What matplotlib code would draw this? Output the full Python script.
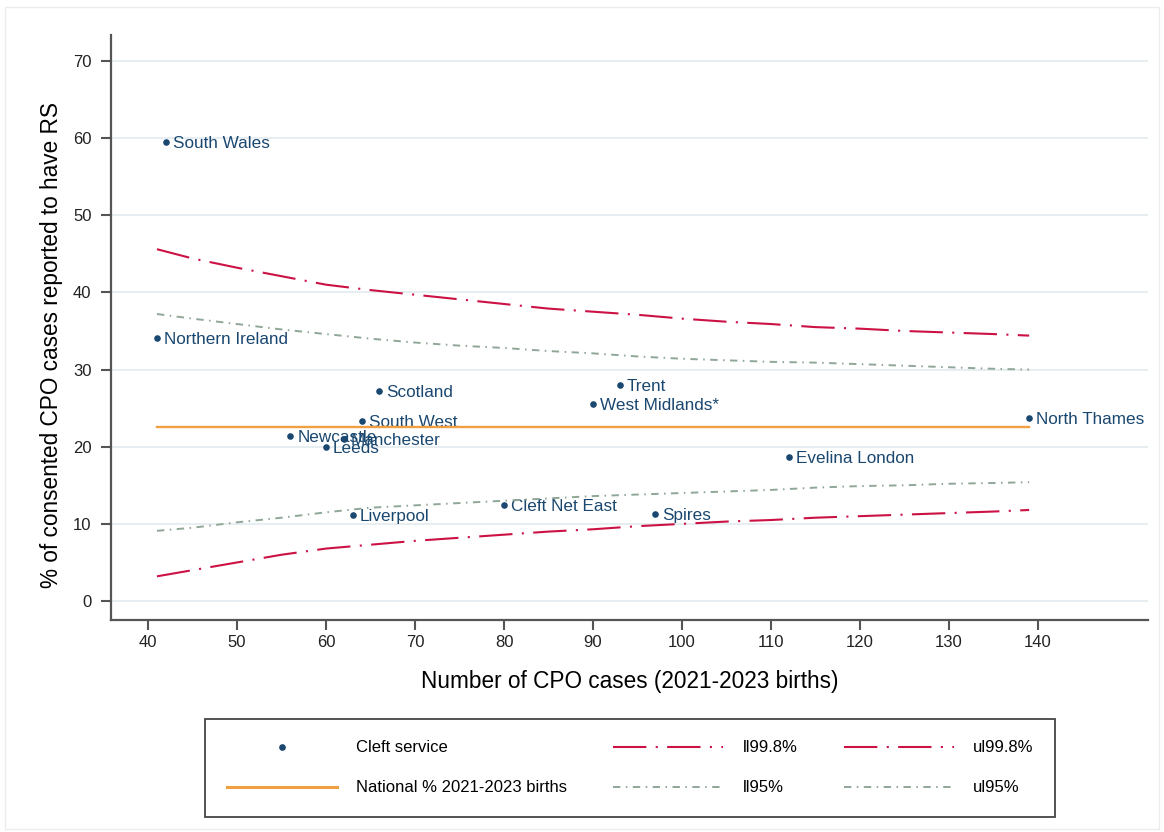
import matplotlib.pyplot as plt
from matplotlib.lines import Line2D
from matplotlib.patches import Rectangle

plt.rcParams['font.family'] = ['Liberation Sans', 'DejaVu Sans']

# Cleft services: number of CPO cases and % reported to have RS
services = ['South Wales', 'Northern Ireland', 'Scotland', 'Trent', 'West Midlands*',
            'South West', 'North Thames', 'Newcastle', 'Manchester', 'Leeds',
            'Evelina London', 'Cleft Net East', 'Liverpool', 'Spires']
cases = [42, 41, 66, 93, 90, 64, 139, 56, 62, 60, 112, 80, 63, 97]
pct_rs = [59.5, 34.1, 27.2, 28.0, 25.5, 23.3, 23.7, 21.4, 21.0, 20.0, 18.7, 12.4, 11.1, 11.3]

national_pct = 22.6

# funnel limits
limit_n = [41, 45, 50, 55, 60, 65, 70, 75, 80, 85, 90, 95, 100, 105, 110, 115, 120, 125, 130, 135, 139]
ul998 = [45.6, 44.4, 43.2, 42.1, 41.0, 40.3, 39.7, 39.1, 38.5, 37.9, 37.5, 37.1, 36.6, 36.2,
         35.9, 35.5, 35.3, 35.0, 34.8, 34.6, 34.4]
ul95 = [37.2, 36.6, 35.9, 35.2, 34.6, 34.0, 33.5, 33.1, 32.8, 32.4, 32.1, 31.7, 31.4, 31.2,
        31.0, 30.9, 30.7, 30.5, 30.3, 30.1, 30.0]
ll95 = [9.1, 9.5, 10.2, 10.8, 11.5, 12.1, 12.4, 12.7, 13.0, 13.3, 13.6, 13.8, 14.0, 14.2,
        14.4, 14.7, 14.9, 15.0, 15.2, 15.3, 15.4]
ll998 = [3.2, 4.0, 5.0, 6.0, 6.8, 7.3, 7.8, 8.2, 8.6, 9.0, 9.3, 9.7, 10.0, 10.3,
         10.5, 10.8, 11.0, 11.2, 11.4, 11.6, 11.8]

navy = '#1a476f'
red = '#cc1144'
green = '#8fa797'
orange = '#f0a040'
axis_col = '#555555'

fig = plt.figure(figsize=(11.64, 8.32), dpi=100)
fig.patches.append(Rectangle((0.004, 0.004), 0.992, 0.988, transform=fig.transFigure,
                             fill=False, edgecolor='#ececec', lw=1))
ax = fig.add_axes([0.0954, 0.2548, 0.8909, 0.7032])

# points and labels
ax.scatter(cases, pct_rs, s=14, color=navy, zorder=2)
for name, x, y in zip(services, cases, pct_rs):
    ax.annotate(name, (x, y), xytext=(5, -1), textcoords='offset points',
                va='center', ha='left', fontsize=12.3, color=navy, zorder=2)

# national line and limits
ax.plot([min(cases), max(cases)], [national_pct, national_pct], color=orange, lw=1.7, zorder=3)
ax.plot(limit_n, ul998, color=red, lw=1.5, dashes=(16, 4.5, 1, 4.5), zorder=3)
ax.plot(limit_n, ll998, color=red, lw=1.5, dashes=(16, 4.5, 1, 4.5), zorder=3)
ax.plot(limit_n, ul95, color=green, lw=1.4, dashes=(3.8, 2.8, 0.8, 2.8), zorder=3)
ax.plot(limit_n, ll95, color=green, lw=1.4, dashes=(3.8, 2.8, 0.8, 2.8), zorder=3)

ax.set_xlim(35.84, 152.36)
ax.set_ylim(-2.46, 73.37)
ax.set_xticks(range(40, 141, 10))
ax.set_yticks(range(0, 71, 10))
ax.grid(axis='y', color='#e6eef1', lw=1.4)
ax.set_axisbelow(True)

for side in ['top', 'right']:
    ax.spines[side].set_visible(False)
for side in ['left', 'bottom']:
    ax.spines[side].set_color(axis_col)
    ax.spines[side].set_linewidth(1.6)
ax.tick_params(axis='both', direction='out', length=7, width=1.5, color=axis_col,
               labelsize=12, labelcolor='#222222')
ax.tick_params(axis='x', pad=4)
ax.tick_params(axis='y', pad=7)

ax.set_xlabel('Number of CPO cases (2021-2023 births)', fontsize=16.3, labelpad=14)
ax.set_ylabel('% of consented CPO cases reported to have RS', fontsize=16.3)
ax.yaxis.set_label_coords(-0.046, 0.47)

# legend box below the plot
handles = [
    Line2D([], [], marker='o', ls='none', color=navy, ms=3.8),
    Line2D([], [], color=orange, lw=2.2),
    Line2D([], [], color=red, lw=1.5, dashes=(16, 4.5, 1, 4.5)),
    Line2D([], [], color=green, lw=1.4, dashes=(3.8, 2.8, 0.8, 2.8)),
    Line2D([], [], color=red, lw=1.5, dashes=(16, 4.5, 1, 4.5)),
    Line2D([], [], color=green, lw=1.4, dashes=(3.8, 2.8, 0.8, 2.8)),
]
labels = ['Cleft service', 'National % 2021-2023 births', 'll99.8%', 'll95%', 'ul99.8%', 'ul95%']
leg = fig.legend(handles, labels, ncol=3, loc='center', mode='expand',
                 bbox_to_anchor=(205 / 1164, 1 - 818 / 832, 850 / 1164, 100 / 832),
                 fontsize=12, handlelength=6.6, handletextpad=1.15, labelspacing=1.5,
                 borderpad=1.3, fancybox=False, framealpha=1, borderaxespad=0)
leg.get_frame().set_edgecolor('#444444')
leg.get_frame().set_linewidth(1.3)

fig.savefig('out.png', dpi=100)
